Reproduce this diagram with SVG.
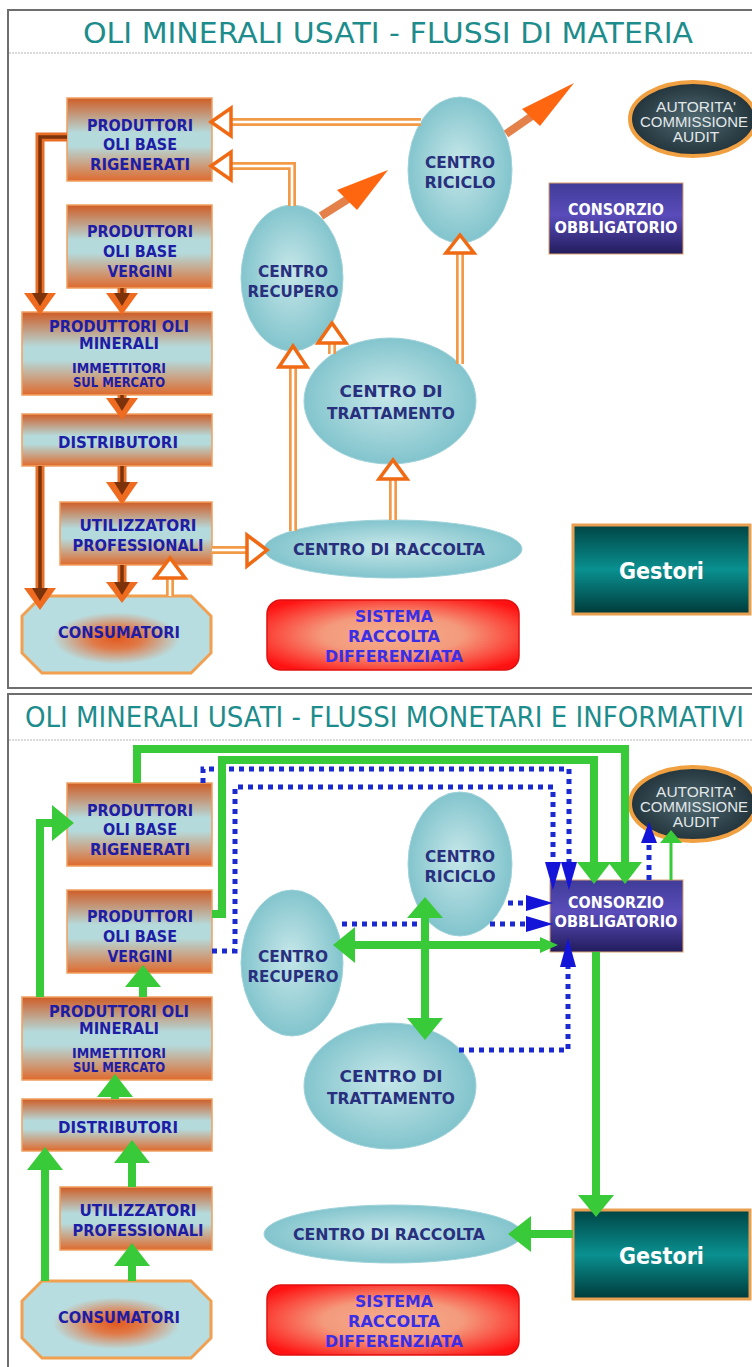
<svg xmlns="http://www.w3.org/2000/svg" width="752" height="1367" viewBox="0 0 752 1367">
<defs>
<linearGradient id="gBox" x1="0" y1="0" x2="0" y2="1">
<stop offset="0" stop-color="#cf5d26"/><stop offset="0.42" stop-color="#b5dadb"/><stop offset="0.58" stop-color="#b5dadb"/><stop offset="1" stop-color="#df6a2d"/>
</linearGradient>
<radialGradient id="gEll" cx="0.5" cy="0.5" r="0.55" fx="0.48" fy="0.45">
<stop offset="0" stop-color="#c6e7e9"/><stop offset="1" stop-color="#7cc1ca"/>
</radialGradient>
<radialGradient id="gCons" cx="0.5" cy="0.55" r="0.45">
<stop offset="0" stop-color="#e35a20"/><stop offset="0.3" stop-color="#e07a48"/><stop offset="0.75" stop-color="#b8dde0"/><stop offset="1" stop-color="#b8dde0"/>
</radialGradient>
<radialGradient id="gSis" cx="0.5" cy="0.5" r="0.62">
<stop offset="0" stop-color="#f3ae8e"/><stop offset="0.45" stop-color="#f49a7c"/><stop offset="1" stop-color="#ff1212"/>
</radialGradient>
<linearGradient id="gGest" x1="0" y1="0" x2="0" y2="1">
<stop offset="0" stop-color="#004444"/><stop offset="0.5" stop-color="#0a9090"/><stop offset="1" stop-color="#003a3a"/>
</linearGradient>
<linearGradient id="gCon" x1="0" y1="0" x2="0" y2="1">
<stop offset="0" stop-color="#403c98"/><stop offset="0.45" stop-color="#5a4cba"/><stop offset="1" stop-color="#221c5c"/>
</linearGradient>
<radialGradient id="gAut" cx="0.5" cy="0.5" r="0.55">
<stop offset="0" stop-color="#506a72"/><stop offset="1" stop-color="#1e2e36"/>
</radialGradient>
<style>
.frame{fill:#fff;stroke:#6e6e6e;stroke-width:2}
.sep{stroke:#b4b4b4;stroke-width:1;stroke-dasharray:2 1}
.title{font-family:"DejaVu Sans","Liberation Sans",sans-serif;fill:#1c8c8c;font-size:29px}
.box{fill:url(#gBox);stroke:#f0a060;stroke-width:1.5}
.ell{fill:url(#gEll);stroke:#9fd2da;stroke-width:1}
.oct{fill:url(#gCons);stroke:#f0a050;stroke-width:3}
.sis{fill:url(#gSis);stroke:#e01010;stroke-width:1.5}
.gest{fill:url(#gGest);stroke:#e8a050;stroke-width:3}
.cons{fill:url(#gCon);stroke:#d8a070;stroke-width:1}
.aut{fill:url(#gAut);stroke:#f0a040;stroke-width:4}
.t{font-family:"DejaVu Sans","Liberation Sans",sans-serif;font-weight:bold;font-size:16px;fill:#1d1da6;text-anchor:middle}
.sm{font-size:13.5px}
.te{fill:#28307e}
.ts{fill:#3a2ee6}
.tw{fill:#fff}
.tc{font-size:15px}
.tg{font-size:23px}
.ta{font-family:"Liberation Sans",Arial,sans-serif;font-size:15.5px;fill:#e2e8ea;text-anchor:middle}
.so{fill:none;stroke:#e86f28;stroke-width:9;stroke-linejoin:miter}
.si{fill:none;stroke:#7c330c;stroke-width:3.5;stroke-linejoin:miter}
.soh{fill:#ee6b1f}
.sih{fill:#7c330c}
.ho{fill:none;stroke:#f29a48;stroke-width:8;stroke-linejoin:miter}
.hi{fill:none;stroke:#fff;stroke-width:2.6;stroke-linejoin:miter}
.hh{fill:#fff;stroke:#f06a14;stroke-width:3.5;stroke-linejoin:miter}
.ex{stroke:#e4804a;stroke-width:8}
.exh{fill:#ff6610}
.g{fill:none;stroke:#38ca38;stroke-width:8;stroke-linejoin:miter}
.gt{fill:none;stroke:#38ca38;stroke-width:3}
.gh{fill:#38ca38}
.b{fill:none;stroke:#1a2ad0;stroke-width:5;stroke-dasharray:5 5}
.bh{fill:#1414d8}
</style>
</defs>
<rect width="752" height="1367" fill="#fff"/>
<g id="frames">
<rect class="frame" x="8" y="10" width="770" height="678"/>
<line class="sep" x1="9" y1="53" x2="752" y2="53"/>
<text class="title" x="83" y="43" textLength="610" lengthAdjust="spacingAndGlyphs">OLI MINERALI USATI - FLUSSI DI MATERIA</text>
<rect class="frame" x="8" y="694" width="770" height="700"/>
<line class="sep" x1="9" y1="740" x2="752" y2="740"/>
<text class="title" transform="translate(25,727) scale(0.9,1)" x="0" y="0">OLI MINERALI USATI - FLUSSI MONETARI E INFORMATIVI</text>
</g>

<!-- ===== TOP PANEL NODES ===== -->
<g id="t-rigenerati"><rect class="box" x="67" y="98" width="145" height="83"/>
<text class="t" x="140" y="131" textLength="106" lengthAdjust="spacingAndGlyphs">PRODUTTORI</text><text class="t" x="140" y="150" textLength="74" lengthAdjust="spacingAndGlyphs">OLI BASE</text><text class="t" x="140" y="170" textLength="100" lengthAdjust="spacingAndGlyphs">RIGENERATI</text></g>
<g id="t-vergini"><rect class="box" x="67" y="205" width="145" height="83"/>
<text class="t" x="140" y="237" textLength="106" lengthAdjust="spacingAndGlyphs">PRODUTTORI</text><text class="t" x="140" y="257" textLength="74" lengthAdjust="spacingAndGlyphs">OLI BASE</text><text class="t" x="140" y="277" textLength="65" lengthAdjust="spacingAndGlyphs">VERGINI</text></g>
<g id="t-minerali"><rect class="box" x="22" y="312" width="190" height="83"/>
<text class="t" x="119" y="332" textLength="140" lengthAdjust="spacingAndGlyphs">PRODUTTORI OLI</text><text class="t" x="119" y="349" textLength="80" lengthAdjust="spacingAndGlyphs">MINERALI</text>
<text class="t sm" x="119" y="373" textLength="94" lengthAdjust="spacingAndGlyphs">IMMETTITORI</text><text class="t sm" x="119" y="387" textLength="92" lengthAdjust="spacingAndGlyphs">SUL MERCATO</text></g>
<g id="t-distributori"><rect class="box" x="22" y="414" width="190" height="52"/>
<text class="t" x="118" y="448" textLength="120" lengthAdjust="spacingAndGlyphs">DISTRIBUTORI</text></g>
<g id="t-utilizzatori"><rect class="box" x="60" y="502" width="152" height="63"/>
<text class="t" x="138" y="531" textLength="117" lengthAdjust="spacingAndGlyphs">UTILIZZATORI</text><text class="t" x="138" y="551" textLength="131" lengthAdjust="spacingAndGlyphs">PROFESSIONALI</text></g>
<g id="t-consumatori"><polygon class="oct" points="42,596 191,596 211,616 211,653 191,673 42,673 22,653 22,616"/>
<text class="t" x="119" y="638" textLength="122" lengthAdjust="spacingAndGlyphs">CONSUMATORI</text></g>
<g id="t-recupero"><ellipse class="ell" cx="292" cy="278" rx="51" ry="73"/>
<text class="t te" x="293" y="277" textLength="70" lengthAdjust="spacingAndGlyphs">CENTRO</text><text class="t te" x="293" y="297" textLength="91" lengthAdjust="spacingAndGlyphs">RECUPERO</text></g>
<g id="t-riciclo"><ellipse class="ell" cx="460" cy="170" rx="52" ry="73"/>
<text class="t te" x="460" y="168" textLength="70" lengthAdjust="spacingAndGlyphs">CENTRO</text><text class="t te" x="460" y="188" textLength="71" lengthAdjust="spacingAndGlyphs">RICICLO</text></g>
<g id="t-trattamento"><ellipse class="ell" cx="390" cy="401" rx="86" ry="63"/>
<text class="t te" x="391" y="397" textLength="103" lengthAdjust="spacingAndGlyphs">CENTRO DI</text><text class="t te" x="391" y="419" textLength="128" lengthAdjust="spacingAndGlyphs">TRATTAMENTO</text></g>
<g id="t-raccolta"><ellipse class="ell" cx="393" cy="549" rx="129" ry="29"/>
<text class="t te" x="389" y="555" textLength="192" lengthAdjust="spacingAndGlyphs">CENTRO DI RACCOLTA</text></g>
<g id="t-sistema"><rect class="sis" x="267" y="600" width="252" height="70" rx="14"/>
<text class="t ts" x="394" y="622" textLength="78" lengthAdjust="spacingAndGlyphs">SISTEMA</text><text class="t ts" x="394" y="642" textLength="92" lengthAdjust="spacingAndGlyphs">RACCOLTA</text><text class="t ts" x="394" y="662" textLength="138" lengthAdjust="spacingAndGlyphs">DIFFERENZIATA</text></g>
<g id="t-gestori"><rect class="gest" x="573" y="525" width="177" height="89"/>
<text class="t tw tg" x="661.5" y="579" textLength="85" lengthAdjust="spacingAndGlyphs">Gestori</text></g>
<g id="t-consorzio"><rect class="cons" x="549" y="183" width="134" height="71"/>
<text class="t tw tc" x="616" y="215" textLength="96" lengthAdjust="spacingAndGlyphs">CONSORZIO</text><text class="t tw tc" x="616" y="233" textLength="123" lengthAdjust="spacingAndGlyphs">OBBLIGATORIO</text></g>
<g id="t-autorita"><ellipse class="aut" cx="693" cy="119" rx="63" ry="37"/>
<text class="ta" x="696" y="112">AUTORITA'</text><text class="ta" x="694" y="127" textLength="108" lengthAdjust="spacingAndGlyphs">COMMISSIONE</text><text class="ta" x="696" y="142">AUDIT</text></g>

<!-- ===== TOP PANEL CONNECTORS ===== -->
<g id="t-connectors">
<path class="so" d="M67,137 H40 V294"/><path class="si" d="M67,137 H40 V294"/>
<polygon class="soh" points="24,293 56,293 40,315"/><polygon class="sih" points="32,293 48,293 40,306"/>
<path class="so" d="M122,288 V294"/><path class="si" d="M122,288 V294"/>
<polygon class="soh" points="106,293 138,293 122,315"/><polygon class="sih" points="114,293 130,293 122,306"/>
<path class="so" d="M122,395 V399"/><path class="si" d="M122,395 V399"/>
<polygon class="soh" points="106,398 138,398 122,420"/><polygon class="sih" points="114,398 130,398 122,411"/>
<path class="so" d="M122,466 V483"/><path class="si" d="M122,466 V483"/>
<polygon class="soh" points="106,482 138,482 122,505"/><polygon class="sih" points="114,482 130,482 122,495"/>
<path class="so" d="M40,466 V589"/><path class="si" d="M40,466 V589"/>
<polygon class="soh" points="24,588 56,588 40,610"/><polygon class="sih" points="32,588 48,588 40,601"/>
<path class="so" d="M122,565 V583"/><path class="si" d="M122,565 V583"/>
<polygon class="soh" points="106,582 138,582 122,603"/><polygon class="sih" points="114,582 130,582 122,595"/>
<path class="ho" d="M421,122 H232"/><path class="hi" d="M421,122 H232"/>
<polygon class="hh" points="211,122 231,108 231,136"/>
<path class="ho" d="M292,206 V166 H232"/><path class="hi" d="M292,206 V166 H232"/>
<polygon class="hh" points="211,166 231,152 231,180"/>
<path class="ho" d="M293,531 V368"/><path class="hi" d="M293,531 V368"/>
<polygon class="hh" points="293,346 279,367 307,367"/>
<path class="ho" d="M332,354 V344"/><path class="hi" d="M332,354 V344"/>
<polygon class="hh" points="332,323 318,343 346,343"/>
<path class="ho" d="M393,520 V480"/><path class="hi" d="M393,520 V480"/>
<polygon class="hh" points="393,460 379,479 407,479"/>
<path class="ho" d="M460,364 V254"/><path class="hi" d="M460,364 V254"/>
<polygon class="hh" points="460,235 446,253 474,253"/>
<path class="ho" d="M212,550 H247"/><path class="hi" d="M212,550 H247"/>
<polygon class="hh" points="267,550 247,535 247,566"/>
<path class="ho" d="M170,596 V579"/><path class="hi" d="M170,596 V579"/>
<polygon class="hh" points="170,558 155,578 185,578"/>
<line class="ex" x1="321" y1="216" x2="348" y2="199"/>
<polygon class="exh" points="388,170 337,190 357,210"/>
<line class="ex" x1="506" y1="134" x2="532" y2="116"/>
<polygon class="exh" points="574,83 522,109 540,126"/>
</g>

<!-- ===== BOTTOM PANEL NODES ===== -->
<g id="b-rigenerati"><rect class="box" x="67" y="783" width="145" height="83"/>
<text class="t" x="140" y="816" textLength="106" lengthAdjust="spacingAndGlyphs">PRODUTTORI</text><text class="t" x="140" y="835" textLength="74" lengthAdjust="spacingAndGlyphs">OLI BASE</text><text class="t" x="140" y="855" textLength="100" lengthAdjust="spacingAndGlyphs">RIGENERATI</text></g>
<g id="b-vergini"><rect class="box" x="67" y="890" width="145" height="83"/>
<text class="t" x="140" y="922" textLength="106" lengthAdjust="spacingAndGlyphs">PRODUTTORI</text><text class="t" x="140" y="942" textLength="74" lengthAdjust="spacingAndGlyphs">OLI BASE</text><text class="t" x="140" y="962" textLength="65" lengthAdjust="spacingAndGlyphs">VERGINI</text></g>
<g id="b-minerali"><rect class="box" x="22" y="997" width="190" height="83"/>
<text class="t" x="119" y="1017" textLength="140" lengthAdjust="spacingAndGlyphs">PRODUTTORI OLI</text><text class="t" x="119" y="1034" textLength="80" lengthAdjust="spacingAndGlyphs">MINERALI</text>
<text class="t sm" x="119" y="1058" textLength="94" lengthAdjust="spacingAndGlyphs">IMMETTITORI</text><text class="t sm" x="119" y="1072" textLength="92" lengthAdjust="spacingAndGlyphs">SUL MERCATO</text></g>
<g id="b-distributori"><rect class="box" x="22" y="1099" width="190" height="52"/>
<text class="t" x="118" y="1133" textLength="120" lengthAdjust="spacingAndGlyphs">DISTRIBUTORI</text></g>
<g id="b-utilizzatori"><rect class="box" x="60" y="1187" width="152" height="63"/>
<text class="t" x="138" y="1216" textLength="117" lengthAdjust="spacingAndGlyphs">UTILIZZATORI</text><text class="t" x="138" y="1236" textLength="131" lengthAdjust="spacingAndGlyphs">PROFESSIONALI</text></g>
<g id="b-consumatori"><polygon class="oct" points="42,1281 191,1281 211,1301 211,1338 191,1358 42,1358 22,1338 22,1301"/>
<text class="t" x="119" y="1323" textLength="122" lengthAdjust="spacingAndGlyphs">CONSUMATORI</text></g>
<g id="b-recupero"><ellipse class="ell" cx="292" cy="963" rx="51" ry="73"/>
<text class="t te" x="293" y="962" textLength="70" lengthAdjust="spacingAndGlyphs">CENTRO</text><text class="t te" x="293" y="982" textLength="91" lengthAdjust="spacingAndGlyphs">RECUPERO</text></g>
<g id="b-riciclo"><ellipse class="ell" cx="460" cy="864" rx="52" ry="72"/>
<text class="t te" x="460" y="862" textLength="70" lengthAdjust="spacingAndGlyphs">CENTRO</text><text class="t te" x="460" y="882" textLength="71" lengthAdjust="spacingAndGlyphs">RICICLO</text></g>
<g id="b-trattamento"><ellipse class="ell" cx="390" cy="1086" rx="86" ry="63"/>
<text class="t te" x="391" y="1082" textLength="103" lengthAdjust="spacingAndGlyphs">CENTRO DI</text><text class="t te" x="391" y="1104" textLength="128" lengthAdjust="spacingAndGlyphs">TRATTAMENTO</text></g>
<g id="b-raccolta"><ellipse class="ell" cx="393" cy="1234" rx="129" ry="29"/>
<text class="t te" x="389" y="1240" textLength="192" lengthAdjust="spacingAndGlyphs">CENTRO DI RACCOLTA</text></g>
<g id="b-sistema"><rect class="sis" x="267" y="1285" width="252" height="70" rx="14"/>
<text class="t ts" x="394" y="1307" textLength="78" lengthAdjust="spacingAndGlyphs">SISTEMA</text><text class="t ts" x="394" y="1327" textLength="92" lengthAdjust="spacingAndGlyphs">RACCOLTA</text><text class="t ts" x="394" y="1347" textLength="138" lengthAdjust="spacingAndGlyphs">DIFFERENZIATA</text></g>
<g id="b-gestori"><rect class="gest" x="573" y="1210" width="177" height="89"/>
<text class="t tw tg" x="661.5" y="1264" textLength="85" lengthAdjust="spacingAndGlyphs">Gestori</text></g>
<g id="b-consorzio"><rect class="cons" x="550" y="880" width="133" height="72"/>
<text class="t tw tc" x="616" y="908" textLength="96" lengthAdjust="spacingAndGlyphs">CONSORZIO</text><text class="t tw tc" x="616" y="927" textLength="123" lengthAdjust="spacingAndGlyphs">OBBLIGATORIO</text></g>
<g id="b-autorita"><ellipse class="aut" cx="693" cy="804" rx="63" ry="37"/>
<text class="ta" x="696" y="797">AUTORITA'</text><text class="ta" x="694" y="812" textLength="108" lengthAdjust="spacingAndGlyphs">COMMISSIONE</text><text class="ta" x="696" y="827">AUDIT</text></g>

<!-- ===== BOTTOM PANEL CONNECTORS ===== -->
<g id="b-connectors">
<path class="b" d="M203,783 V769 H569 V862"/><polygon class="bh" points="569,890 561,862 577,862"/>
<path class="b" d="M212,951 H235 V787 H553 V862"/><polygon class="bh" points="553,890 545,862 561,862"/>
<path class="b" d="M508,903 H526"/><polygon class="bh" points="553,903 526,895 526,911"/>
<path class="b" d="M342,924 H428"/><path class="b" d="M490,924 H526"/><polygon class="bh" points="553,924 526,916 526,932"/>
<path class="b" d="M459,1050 H568 V967"/><polygon class="bh" points="568,938 560,967 576,967"/>
<path class="b" d="M649,880 V843"/><polygon class="bh" points="649,822 641,843 657,843"/>
<path class="g" d="M137,783 V749 H625 V863"/><polygon class="gh" points="625,884 608,862 642,862"/>
<path class="g" d="M212,914 H222 V760 H594 V863"/><polygon class="gh" points="594,884 577,862 611,862"/>
<path class="g" d="M40,997 V823 H53"/><polygon class="gh" points="74,823 52,805 52,841"/>
<path class="g" d="M143,997 V986"/><polygon class="gh" points="143,965 125,987 161,987"/>
<path class="g" d="M115,1099 V1096"/><polygon class="gh" points="115,1074 97,1097 133,1097"/>
<path class="g" d="M132,1187 V1162"/><polygon class="gh" points="132,1140 114,1163 150,1163"/>
<path class="g" d="M132,1281 V1265"/><polygon class="gh" points="132,1243 114,1266 150,1266"/>
<path class="g" d="M45,1281 V1169"/><polygon class="gh" points="45,1147 27,1170 63,1170"/>
<path class="g" d="M354,945 H541"/><polygon class="gh" points="333,945 355,927 355,963"/><polygon class="gh" points="558,945 540,937 540,953"/>
<path class="g" d="M425,917 V1019"/><polygon class="gh" points="425,897 407,918 443,918"/><polygon class="gh" points="425,1040 407,1018 443,1018"/>
<path class="g" d="M596,952 V1196"/><polygon class="gh" points="596,1217 578,1195 614,1195"/>
<path class="g" d="M573,1234 H530"/><polygon class="gh" points="508,1234 531,1216 531,1252"/>
<path class="gt" d="M671,880 V842"/><polygon class="gh" points="671,830 660,843 682,843"/>
</g>
</svg>
